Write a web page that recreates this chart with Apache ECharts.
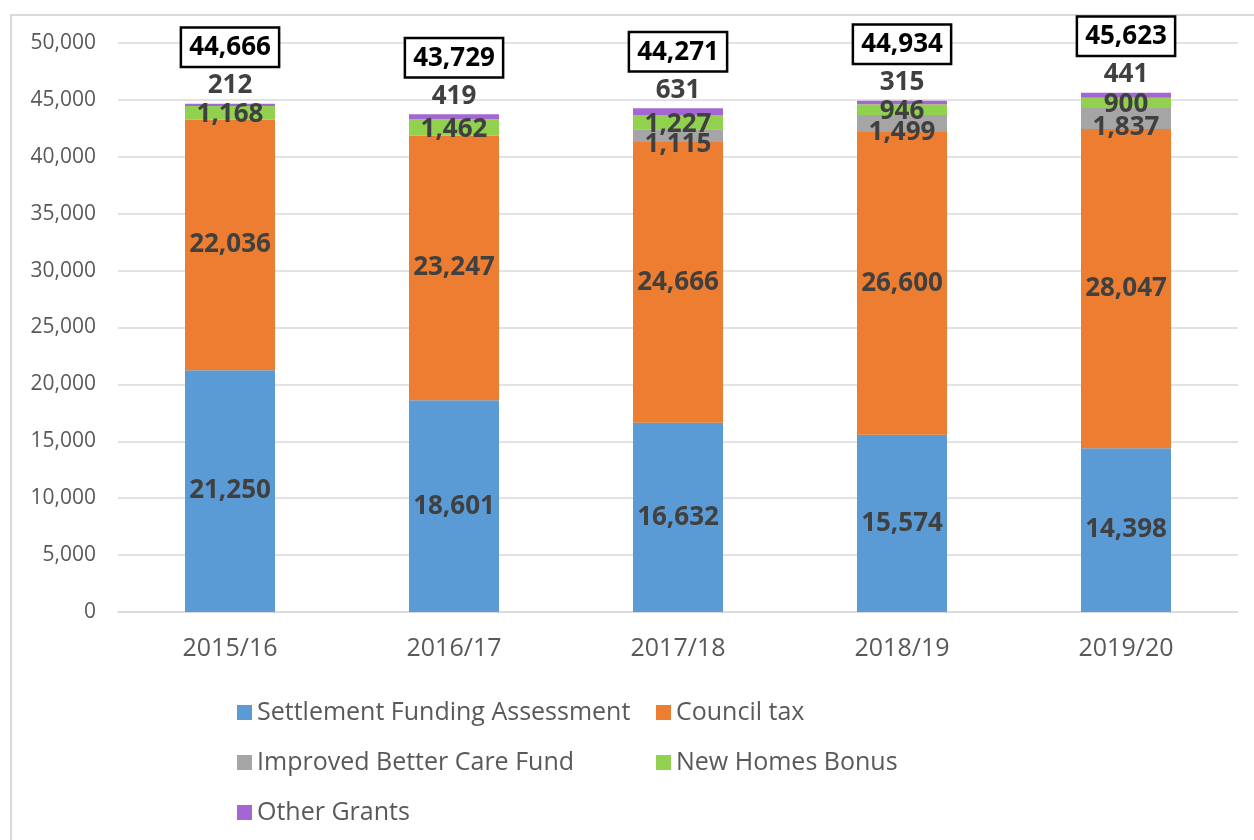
<!DOCTYPE html>
<html>
<head>
<meta charset="utf-8">
<script src="https://cdn.jsdelivr.net/npm/echarts@6/dist/echarts.min.js"></script>
<style>
  html, body { margin: 0; padding: 0; background: #fff; }
  #chart { width: 1254px; height: 840px; }
</style>
</head>
<body>
<div id="chart"></div>
<script>
// years and funding streams (£000)
var years = ['2015/16', '2016/17', '2017/18', '2018/19', '2019/20'];
var settlementFunding = [21250, 18601, 16632, 15574, 14398];
var councilTax = [22036, 23247, 24666, 26600, 28047];
var betterCareFund = [0, 0, 1115, 1499, 1837];
var newHomesBonus = [1168, 1462, 1227, 946, 900];
var otherGrants = [212, 419, 631, 315, 441];
var totals = [44666, 43729, 44271, 44934, 45623];

var font = 'Open Sans';
var fmt = function (v) { return v.toLocaleString('en-GB'); };

var dataLabel = {
  show: true,
  fontFamily: font,
  fontSize: 26,
  fontWeight: 'bold',
  color: '#404040',
  formatter: function (p) { return p.value ? fmt(p.value) : ''; }
};

function stackBar(name, data, color, label) {
  return {
    name: name,
    type: 'bar',
    stack: 'funding',
    barWidth: 90,
    data: data,
    itemStyle: { color: color },
    label: Object.assign({}, dataLabel, label || {})
  };
}

var myChart = echarts.init(document.getElementById('chart'));

var legendText = { fontFamily: font, fontSize: 25, color: '#595959' };

var option = {
  animation: false,
  graphic: [{
    type: 'rect',
    shape: { x: 11, y: 15, width: 1300, height: 900 },
    style: { fill: 'none', stroke: '#d9d9d9', lineWidth: 2 },
    silent: true
  }],
  grid: { left: 118, right: 16, top: 43, bottom: 228 },
  legend: [
    {
      orient: 'vertical',
      left: 232, top: 695,
      itemWidth: 15, itemHeight: 15, itemGap: 25,
      icon: 'rect',
      textStyle: legendText,
      data: ['Settlement Funding Assessment', 'Improved Better Care Fund', 'Other Grants']
    },
    {
      orient: 'vertical',
      left: 651, top: 695,
      itemWidth: 15, itemHeight: 15, itemGap: 25,
      icon: 'rect',
      textStyle: legendText,
      data: ['Council tax', 'New Homes Bonus']
    }
  ],
  xAxis: {
    type: 'category',
    data: years,
    axisLine: { lineStyle: { color: '#d9d9d9', width: 1.5 } },
    axisTick: { show: false },
    axisLabel: { fontFamily: font, fontSize: 25, color: '#595959', margin: 24 }
  },
  yAxis: {
    type: 'value',
    min: 0, max: 50000, interval: 5000,
    axisLine: { show: false },
    axisTick: { show: false },
    splitLine: { lineStyle: { color: '#d9d9d9', width: 1.5 } },
    axisLabel: {
      fontFamily: font, fontSize: 21, color: '#595959', margin: 22,
      formatter: function (v) { return fmt(v); }
    }
  },
  series: [
    stackBar('Settlement Funding Assessment', settlementFunding, '#5b9bd5'),
    stackBar('Council tax', councilTax, '#ed7d31'),
    stackBar('Improved Better Care Fund', betterCareFund, '#a5a5a5', { offset: [0, 9] }),
    stackBar('New Homes Bonus', newHomesBonus, '#92d050', { offset: [0, 2] }),
    stackBar('Other Grants', otherGrants, '#a366d3', { position: 'top', distance: 5 }),
    {
      name: 'Total',
      type: 'bar',
      barWidth: 90,
      barGap: '-100%',
      z: 1,
      data: totals,
      itemStyle: { color: 'rgba(0,0,0,0)' },
      silent: true,
      label: {
        show: true,
        position: 'top',
        distance: 38,
        fontFamily: font,
        fontSize: 26,
        fontWeight: 'bold',
        color: '#000',
        backgroundColor: '#fff',
        borderColor: '#000',
        borderWidth: 2.5,
        padding: [6, 7, 5, 7],
        formatter: function (p) { return fmt(p.value); }
      }
    }
  ]
};

myChart.setOption(option);
window.addEventListener('resize', myChart.resize);
</script>
</body>
</html>
